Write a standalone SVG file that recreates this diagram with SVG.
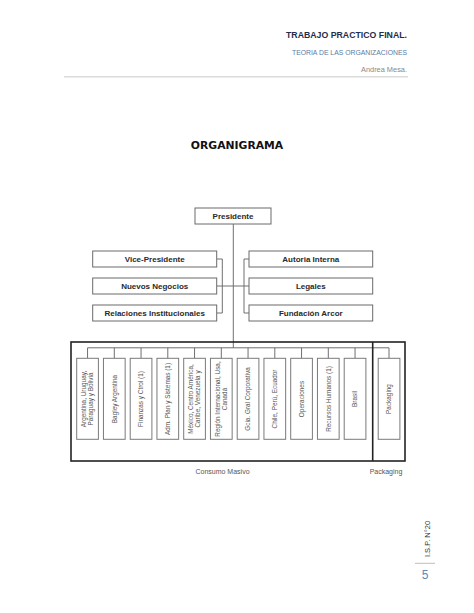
<svg xmlns="http://www.w3.org/2000/svg" width="474" height="613" viewBox="0 0 474 613">
<defs>
<style>
.box{fill:#fff;stroke:#6a6a6a;stroke-width:1}
.col{fill:#fff;stroke:#7a7a7a;stroke-width:1}
.lbl{font-family:"Liberation Sans",Arial,sans-serif;font-size:8px;font-weight:bold;fill:#2a2a2a;text-anchor:middle}
.ct{font-family:"Liberation Sans",Arial,sans-serif;font-size:6.4px;fill:#555;text-anchor:middle}
.cap{font-family:"Liberation Sans",Arial,sans-serif;font-size:7px;fill:#555;text-anchor:middle}
.ln{fill:none;stroke:#707070;stroke-width:1}
</style>
</defs>
<rect width="474" height="613" fill="#fff"/>
<g id="header">
<text x="407" y="37.5" font-family="Liberation Sans,Arial,sans-serif" font-size="9.5" font-weight="bold" fill="#1f2d4a" text-anchor="end" textLength="121" lengthAdjust="spacingAndGlyphs">TRABAJO PRACTICO FINAL.</text>
<text x="407" y="55" font-family="Liberation Sans,Arial,sans-serif" font-size="6.6" fill="#5a7ba6" text-anchor="end" textLength="115" lengthAdjust="spacingAndGlyphs">TEORIA DE LAS ORGANIZACIONES</text>
<text x="407" y="72" font-family="Liberation Sans,Arial,sans-serif" font-size="6.8" fill="#8a8a8a" text-anchor="end" textLength="46" lengthAdjust="spacingAndGlyphs">Andrea Mesa.</text>
<line x1="64" y1="76.8" x2="408" y2="76.8" stroke="#dcdcdc" stroke-width="1.5"/>
</g>
<text id="title" x="237" y="148.5" font-family="DejaVu Sans,Verdana,sans-serif" font-size="10.8" font-weight="bold" fill="#111" text-anchor="middle">ORGANIGRAMA</text>
<g id="connectors">
<line class="ln" x1="233.3" y1="224" x2="233.3" y2="348"/>
<polyline class="ln" points="216.7,259 222.3,259 222.3,313 216.7,313"/>
<polyline class="ln" points="249,259 244,259 244,313 249,313"/>
<line class="ln" x1="216.7" y1="286" x2="249" y2="286"/>
<line class="ln" x1="87.55" y1="347.8" x2="389" y2="347.8"/>
<g class="ln">
<line x1="87.55" y1="347.8" x2="87.55" y2="358.3"/>
<line x1="114.3" y1="347.8" x2="114.3" y2="358.3"/>
<line x1="141.05" y1="347.8" x2="141.05" y2="358.3"/>
<line x1="167.8" y1="347.8" x2="167.8" y2="358.3"/>
<line x1="194.55" y1="347.8" x2="194.55" y2="358.3"/>
<line x1="221.3" y1="347.8" x2="221.3" y2="358.3"/>
<line x1="248.05" y1="347.8" x2="248.05" y2="358.3"/>
<line x1="274.8" y1="347.8" x2="274.8" y2="358.3"/>
<line x1="301.55" y1="347.8" x2="301.55" y2="358.3"/>
<line x1="328.3" y1="347.8" x2="328.3" y2="358.3"/>
<line x1="355.05" y1="347.8" x2="355.05" y2="358.3"/>
<line x1="389" y1="347.8" x2="389" y2="358.3"/>
</g>
</g>
<g id="groups">
<rect x="71" y="342" width="334" height="119" fill="none" stroke="#222" stroke-width="1.6"/>
<line x1="372.7" y1="342" x2="372.7" y2="461" stroke="#222" stroke-width="1.6"/>
<text class="cap" x="222.5" y="473.5">Consumo Masivo</text>
<text class="cap" x="386" y="473.5">Packaging</text>
</g>
<g id="presidente"><rect class="box" x="195" y="208" width="76" height="16"/><text class="lbl" x="233" y="219">Presidente</text></g>
<g id="vicepresidente"><rect class="box" x="92.7" y="251" width="124" height="16"/><text class="lbl" x="154.7" y="262">Vice-Presidente</text></g>
<g id="nuevosnegocios"><rect class="box" x="92.7" y="278" width="124" height="16"/><text class="lbl" x="154.7" y="289">Nuevos Negocios</text></g>
<g id="relaciones"><rect class="box" x="92.7" y="305" width="124" height="16"/><text class="lbl" x="154.7" y="316">Relaciones Institucionales</text></g>
<g id="auditoria"><rect class="box" x="249" y="251" width="123.7" height="16"/><text class="lbl" x="310.8" y="262">Autoria Interna</text></g>
<g id="legales"><rect class="box" x="249" y="278" width="123.7" height="16"/><text class="lbl" x="310.8" y="289">Legales</text></g>
<g id="fundacion"><rect class="box" x="249" y="305" width="123.7" height="16"/><text class="lbl" x="310.8" y="316">Fundación Arcor</text></g>
<g id="c1"><rect class="col" x="76.7" y="358.3" width="21.7" height="81"/><g transform="translate(87.55,399) rotate(-90)"><text class="ct" x="0" y="-1.2">Argentina, Uruguay,</text><text class="ct" x="0" y="5.6">Paraguay y Bolivia</text></g></g>
<g id="c2"><rect class="col" x="103.45" y="358.3" width="21.7" height="81"/><text class="ct" transform="translate(114.3,399) rotate(-90)" x="0" y="2.2">Bagley Argentina</text></g>
<g id="c3"><rect class="col" x="130.2" y="358.3" width="21.7" height="81"/><text class="ct" transform="translate(141.05,399) rotate(-90)" x="0" y="2.2">Finanzas y Ctrol (1)</text></g>
<g id="c4"><rect class="col" x="156.95" y="358.3" width="21.7" height="81"/><text class="ct" transform="translate(167.8,399) rotate(-90)" x="0" y="2.2">Adm. Plan y Sistemas (1)</text></g>
<g id="c5"><rect class="col" x="183.7" y="358.3" width="21.7" height="81"/><g transform="translate(194.55,399) rotate(-90)"><text class="ct" x="0" y="-1.2">México, Centro América,</text><text class="ct" x="0" y="5.6">Caribe, Venezuela y</text></g></g>
<g id="c6"><rect class="col" x="210.45" y="358.3" width="21.7" height="81"/><g transform="translate(221.3,399) rotate(-90)"><text class="ct" x="0" y="-1.2">Región Internacional, Usa,</text><text class="ct" x="0" y="5.6">Canadá</text></g></g>
<g id="c7"><rect class="col" x="237.2" y="358.3" width="21.7" height="81"/><text class="ct" transform="translate(248.05,399) rotate(-90)" x="0" y="2.2">Gcia. Gral Corporativa</text></g>
<g id="c8"><rect class="col" x="263.95" y="358.3" width="21.7" height="81"/><text class="ct" transform="translate(274.8,399) rotate(-90)" x="0" y="2.2">Chile, Perú, Ecuador</text></g>
<g id="c9"><rect class="col" x="290.7" y="358.3" width="21.7" height="81"/><text class="ct" transform="translate(301.55,399) rotate(-90)" x="0" y="2.2">Operaciones</text></g>
<g id="c10"><rect class="col" x="317.45" y="358.3" width="21.7" height="81"/><text class="ct" transform="translate(328.3,399) rotate(-90)" x="0" y="2.2">Recursos Humanos (1)</text></g>
<g id="c11"><rect class="col" x="344.2" y="358.3" width="21.7" height="81"/><text class="ct" transform="translate(355.05,399) rotate(-90)" x="0" y="2.2">Brasil</text></g>
<g id="c12"><rect class="col" x="378.2" y="358.3" width="21.7" height="81"/><text class="ct" transform="translate(389,399) rotate(-90)" x="0" y="2.2">Packaging</text></g>
<g id="footer">
<text transform="translate(429.5,539) rotate(-90)" x="0" y="0" font-family="Liberation Sans,Arial,sans-serif" font-size="7.5" fill="#333" text-anchor="middle">I.S.P. N°20</text>
<line x1="415" y1="563.3" x2="435" y2="563.3" stroke="#bdbdbd" stroke-width="1"/>
<text x="425" y="579" font-family="Liberation Sans,Arial,sans-serif" font-size="12" fill="#5b87b8" text-anchor="middle">5</text>
</g>
</svg>
